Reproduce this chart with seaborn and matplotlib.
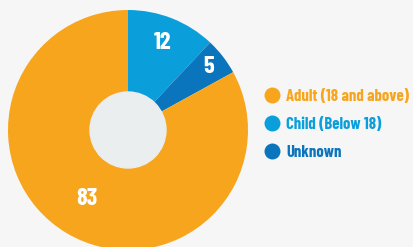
import numpy as np
import matplotlib
matplotlib.use("Agg")
import matplotlib.pyplot as plt
from matplotlib.lines import Line2D
import seaborn as sns

# Dati del grafico (ordine delle fette in senso orario da ore 12)
categories = ["Child (Below 18)", "Unknown", "Adult (18 and above)"]
values = [12, 5, 83]
legend_order = ["Adult (18 and above)", "Child (Below 18)", "Unknown"]

colors = {
    "Adult (18 and above)": "#F8A51E",
    "Child (Below 18)": "#0A9FDB",
    "Unknown": "#0A74BD",
}
BG = "#F6F6F6"
HOLE = "#EBEEEE"

sns.set_style("white")
plt.rcParams["font.family"] = ["Barlow Condensed", "DejaVu Sans"]

fig = plt.figure(figsize=(4.13, 2.47), dpi=100, facecolor=BG)
ax = fig.add_axes([0, 0, 1, 1])
ax.set_facecolor(BG)

cx, cy, R = 128, 117, 120
pal = [colors[c] for c in categories]
ax.pie(values, colors=pal, startangle=90, counterclock=False,
       center=(cx, cy), radius=R, frame=True,
       wedgeprops=dict(linewidth=0))
ax.set_xlim(0, 413)
ax.set_ylim(0, 247)
ax.set_aspect("equal")
ax.axis("off")
ax.add_patch(plt.Circle((cx, cy), 38, color=HOLE, zorder=3))

# etichette numeriche sulle fette
dist = [0.78, 0.85, 0.67]
start = 90
for v, d in zip(values, dist):
    span = v / sum(values) * 360
    mid = np.deg2rad(start - span / 2)
    ax.text(cx + d * R * np.cos(mid), cy + d * R * np.sin(mid), str(v),
            color="white", fontsize=17.5, fontweight="bold",
            ha="center", va="center", zorder=4)
    start -= span

handles = [Line2D([], [], marker="o", linestyle="", markersize=11.5,
                  markerfacecolor=colors[c], markeredgewidth=0)
           for c in legend_order]
leg = ax.legend(handles, legend_order, loc="center left",
                bbox_to_anchor=(264 / 413, 0.495), bbox_transform=fig.transFigure,
                frameon=False, borderpad=0, borderaxespad=0, handlelength=1.0,
                handletextpad=0.35, labelspacing=0.78,
                prop=dict(size=12, weight="bold"))
for txt, c in zip(leg.get_texts(), legend_order):
    txt.set_color(colors[c])

fig.savefig("out.png", dpi=100, facecolor=BG)
